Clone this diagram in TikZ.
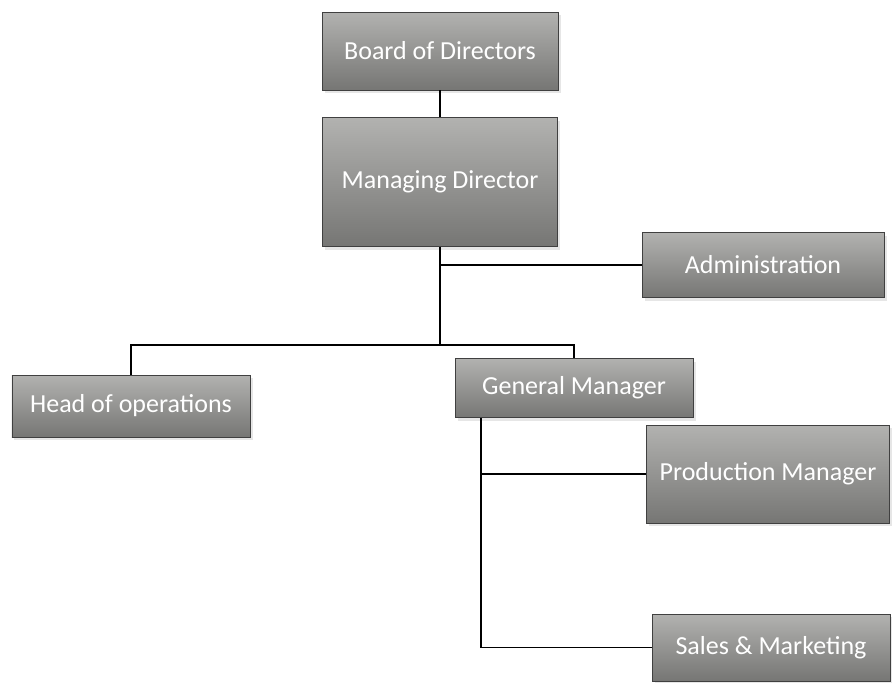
\documentclass[tikz,border=0pt]{standalone}
\usepackage{fontspec}
\setmainfont{Carlito}
\usepackage{tikz}
\usetikzlibrary{shapes,shadows}
\definecolor{org_top}{RGB}{178, 178, 176}
\definecolor{org_bot}{RGB}{118, 118, 116}
\tikzstyle{post}=[rectangle,top color=org_top,bottom color=org_bot,draw=black!75,
  line width=0.5 pt,text=white,font=\fontsize{14.8}{17}\selectfont,
  drop shadow={opacity=0.2,shadow xshift=0.5mm,shadow yshift=-0.6mm},inner sep=3pt]
\tikzstyle{link}=[line width=0.7 pt,draw=black]

\begin{document}
\begin{tikzpicture}
    \useasboundingbox (0,0) rectangle (17.84,-13.64);
    \node [style=post,minimum width=4.72cm,minimum height=1.56cm] (board) at (8.8,-1.02) {Board of Directors};
    \node [style=post,minimum width=4.7cm,minimum height=2.58cm] (md) at (8.8,-3.64) {Managing Director};
    \node [style=post,minimum width=4.84cm,minimum height=1.3cm] (admin) at (15.26,-5.3) {Administration};
    \node [style=post,minimum width=4.76cm,minimum height=1.24cm] (hoo) at (2.62,-8.12) {Head of operations};
    \node [style=post,minimum width=4.76cm,minimum height=1.18cm] (gm) at (11.48,-7.76) {General Manager};
    \node [style=post,minimum width=4.86cm,minimum height=1.96cm] (prod) at (15.36,-9.48) {Production Manager};
    \node [style=post,minimum width=4.76cm,minimum height=1.34cm] (sales) at (15.42,-12.95) {Sales \& Marketing};
    \coordinate (bus) at (8.8,-6.9);
    \coordinate (gmtrunk) at (9.62,-12.95);
    \draw [style=link] (board) to (md);
    \draw [style=link] (md) to (bus);
    \draw [style=link] (md.south |- admin) to (admin);
    \draw [style=link] (bus) -| (hoo);
    \draw [style=link] (bus) -| (gm);
    \draw [style=link] (gm.south -| gmtrunk) to (gmtrunk);
    \draw [style=link] (gmtrunk |- prod) to (prod);
    \draw [style=link] (gmtrunk) to (sales);
  \end{tikzpicture}
\end{document}
